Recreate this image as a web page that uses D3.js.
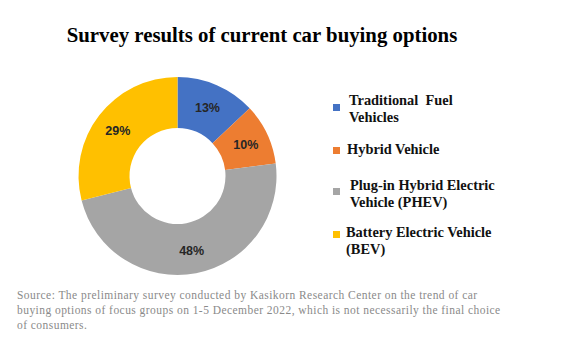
<!DOCTYPE html>
<html><head><meta charset="utf-8">
<script src="https://cdn.jsdelivr.net/npm/d3@7"></script>
<style>body{margin:0;background:#fff}svg{display:block}</style>
</head><body>
<svg id="c" width="566" height="357"></svg>
<script>
const categories = ["Traditional Fuel Vehicles","Hybrid Vehicle","Plug-in Hybrid Electric Vehicle (PHEV)","Battery Electric Vehicle (BEV)"];
const legendLines = [["Traditional  Fuel","Vehicles"],["Hybrid Vehicle"],["Plug-in Hybrid Electric","Vehicle (PHEV)"],["Battery Electric Vehicle","(BEV)"]];
const values = [13,10,48,29];
const colors = ["#4472C4","#ED7D31","#A5A5A5","#FFC000"];
const titleText = "Survey results of current car buying options";
const sourceLines = ["Source: The preliminary survey conducted by Kasikorn Research Center on the trend of car",
"buying options of focus groups on 1-5 December 2022, which is not necessarily the final choice",
"of consumers."];

const svg = d3.select("#c");
svg.append("text").attr("x",262).attr("y",42).attr("text-anchor","middle")
  .attr("font-family","'Liberation Serif','Times New Roman',serif").attr("font-weight","bold")
  .attr("font-size",20.8).attr("fill","#000").text(titleText);

const cx=177.5, cy=176, rO=99, rI=48;
const pie = d3.pie().sort(null).value(d=>d)(values);
const arc = d3.arc().innerRadius(rI).outerRadius(rO);
const g = svg.append("g").attr("transform",`translate(${cx},${cy})`);
g.selectAll("path").data(pie).join("path").attr("d",arc).attr("fill",(d,i)=>colors[i]);
const labelArc = d3.arc().innerRadius((rI+rO)/2+2).outerRadius((rI+rO)/2+2);
g.selectAll("text").data(pie).join("text")
  .attr("transform",d=>`translate(${labelArc.centroid(d)})`)
  .attr("text-anchor","middle").attr("dy","0.4em")
  .attr("font-family","'Liberation Sans',Arial,sans-serif").attr("font-weight","bold")
  .attr("font-size",12.5).attr("fill","#262626").text(d=>d.value+"%");

const lBase = [105,154,190,237];
const lTextX = [349,347,350,346];
const lSqY = [104,147,188,231];
const lg = svg.append("g");
legendLines.forEach((lines,i)=>{
  lg.append("rect").attr("x",333).attr("y",lSqY[i]).attr("width",7).attr("height",7).attr("fill",colors[i]);
  lines.forEach((t,j)=>{
    lg.append("text").attr("x",lTextX[i]).attr("y",lBase[i]+j*17)
      .attr("font-family","'Liberation Serif','Times New Roman',serif").attr("font-weight","bold")
      .attr("font-size",14.4).attr("fill","#111").attr("xml:space","preserve").text(t);
  });
});

svg.append("g").selectAll("text").data(sourceLines).join("text")
  .attr("x",17).attr("y",(d,i)=>299+i*15)
  .attr("font-family","'Liberation Serif','Times New Roman',serif")
  .attr("font-size",11.5).attr("letter-spacing",0.45).attr("fill","#8a8a8a").text(d=>d);
</script>
</body></html>
